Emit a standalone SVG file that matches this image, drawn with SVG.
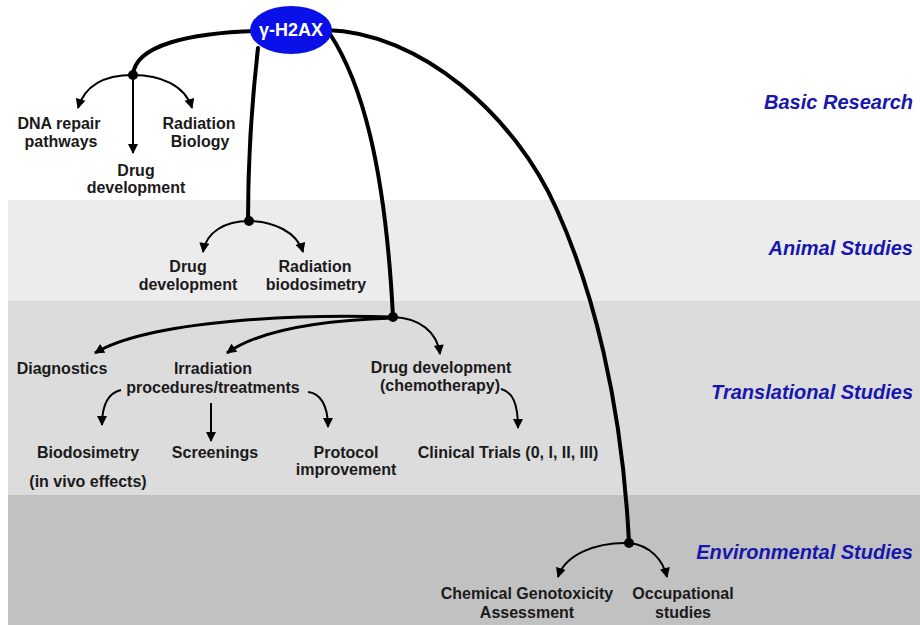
<svg xmlns="http://www.w3.org/2000/svg" width="920" height="625" viewBox="0 0 920 625">
<defs>
<marker id="ah" viewBox="0 0 10 10" refX="9" refY="5" markerWidth="11" markerHeight="10" markerUnits="userSpaceOnUse" orient="auto">
<path d="M0,0 L10,5 L0,10 z" fill="#000"/>
</marker>
</defs>
<style>
.t{font-family:"Liberation Sans",Arial,sans-serif;font-weight:bold;font-size:16px;fill:#1a1a1a;text-anchor:middle}
.lab{font-family:"Liberation Sans",Arial,sans-serif;font-weight:bold;font-style:italic;font-size:20px;fill:#1717ad;text-anchor:end}
.thick{fill:none;stroke:#000;stroke-width:4;stroke-linecap:round}
.thin{fill:none;stroke:#000;stroke-width:2;marker-end:url(#ah)}
.mid{fill:none;stroke:#000;stroke-width:3;marker-end:url(#ah)}
.dot{fill:#000}
</style>
<rect x="0" y="0" width="920" height="625" fill="#fff"/>
<g id="bands">
<rect x="8" y="200" width="912" height="101" fill="#ececec"/>
<rect x="8" y="301" width="912" height="194" fill="#dcdcdc"/>
<rect x="8" y="495" width="912" height="130" fill="#c1c1c1"/>
</g>
<g id="labels">
<text class="lab" x="913" y="109">Basic Research</text>
<text class="lab" x="913" y="255">Animal Studies</text>
<text class="lab" x="913" y="399">Translational Studies</text>
<text class="lab" x="913" y="559">Environmental Studies</text>
</g>
<g id="connectors">
<path class="thick" d="M256 31 C190 33, 135 45, 133 75"/>
<path class="thick" d="M326 30 C420 32, 515 115, 557 210 C592 288, 622 400, 629 543"/>
<path class="thick" d="M258 48 C252 100, 248 150, 248 221"/>
<path class="thick" d="M330 34 C360 80, 385 160, 393 317"/>
<path class="thin" d="M133 75 C105 75, 85 85, 78 108"/>
<path class="thin" d="M133 75 L133 153"/>
<path class="thin" d="M133 75 C160 75, 185 85, 192 108"/>
<path class="thin" d="M249 221 C225 221, 206 232, 203 252"/>
<path class="thin" d="M249 221 C273 221, 297 232, 303 252"/>
<path class="mid" d="M393 317 C300 314, 150 320, 95 353"/>
<path class="mid" d="M393 318 C330 320, 262 328, 227 353"/>
<path class="thin" d="M393 317 C420 318, 437 332, 440 354"/>
<path class="thin" d="M121 390 C108 393, 102 405, 102 425"/>
<path class="thin" d="M211 403 L211 441"/>
<path class="thin" d="M308 392 C320 393, 328 405, 328 427"/>
<path class="thin" d="M501 389 C512 392, 518 402, 518 428"/>
<path class="thin" d="M629 543 C595 542, 565 555, 558 577"/>
<path class="thin" d="M629 543 C650 545, 663 560, 667 577"/>
<circle class="dot" cx="133" cy="75" r="5"/>
<circle class="dot" cx="249" cy="221" r="5"/>
<circle class="dot" cx="393" cy="317" r="5"/>
<circle class="dot" cx="629" cy="543" r="5"/>
</g>
<g id="h2ax">
<ellipse cx="291" cy="30" rx="41" ry="24" fill="#0a10e8"/>
<text x="291" y="36" style="font-family:'Liberation Sans',Arial,sans-serif;font-weight:bold;font-size:18px;fill:#fff;text-anchor:middle">γ-H2AX</text>
</g>
<g id="dna-repair"><text class="t" x="59" y="129">DNA repair</text><text class="t" x="61" y="147">pathways</text></g>
<g id="drug-dev-basic"><text class="t" x="136" y="176">Drug</text><text class="t" x="136" y="193">development</text></g>
<g id="radiation-biology"><text class="t" x="199" y="129">Radiation</text><text class="t" x="200" y="147">Biology</text></g>
<g id="drug-dev-animal"><text class="t" x="188" y="272">Drug</text><text class="t" x="188" y="290">development</text></g>
<g id="radiation-biodosimetry"><text class="t" x="315" y="272">Radiation</text><text class="t" x="316" y="290">biodosimetry</text></g>
<g id="diagnostics"><text class="t" x="62" y="374">Diagnostics</text></g>
<g id="irradiation"><text class="t" x="213" y="374">Irradiation</text><text class="t" x="213" y="393">procedures/treatments</text></g>
<g id="drug-dev-chemo"><text class="t" x="441" y="373">Drug development</text><text class="t" x="440" y="391">(chemotherapy)</text></g>
<g id="biodosimetry"><text class="t" x="88" y="458">Biodosimetry</text><text class="t" x="88" y="487">(in vivo effects)</text></g>
<g id="screenings"><text class="t" x="215" y="458">Screenings</text></g>
<g id="protocol"><text class="t" x="346" y="458">Protocol</text><text class="t" x="346" y="475">improvement</text></g>
<g id="clinical-trials"><text class="t" x="508" y="458">Clinical Trials (0, I, II, III)</text></g>
<g id="chemical-genotoxicity"><text class="t" x="527" y="599">Chemical Genotoxicity</text><text class="t" x="527" y="618">Assessment</text></g>
<g id="occupational"><text class="t" x="683" y="599">Occupational</text><text class="t" x="683" y="618">studies</text></g>
</svg>
